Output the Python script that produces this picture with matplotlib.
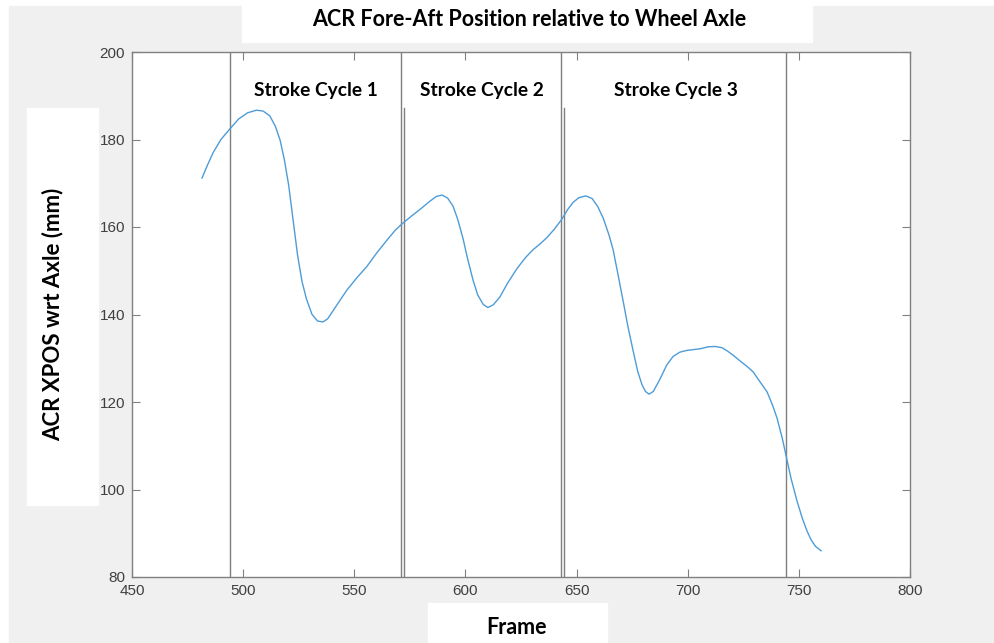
import matplotlib
matplotlib.use("Agg")
import matplotlib.pyplot as plt
from matplotlib.patches import Rectangle

# DATA
frames = [481.5, 484.0, 486.5, 490.0, 494.0, 498.0, 502.0, 506.0, 509.0, 512.0,
          514.5, 516.6, 518.5, 520.5, 522.5, 524.5, 526.5, 528.5, 531.0, 533.5,
          535.9, 538.0, 540.5, 543.5, 546.7, 551.0, 555.7, 560.0, 564.7, 568.5,
          571.9, 576.0, 580.0, 584.0, 587.0, 589.5, 592.0, 594.4, 596.5, 598.9,
          601.0, 603.4, 605.5, 608.0, 610.1, 612.5, 615.5, 619.0, 623.2, 627.0,
          630.4, 633.5, 636.7, 640.0, 643.4, 646.0, 648.4, 651.0, 654.2, 657.0,
          659.5, 662.0, 664.5, 666.4, 668.5, 670.9, 673.0, 675.4, 677.5, 679.4,
          681.0, 682.6, 684.5, 687.5, 690.5, 693.4, 696.5, 699.7, 703.0, 706.0,
          709.0, 712.3, 715.5, 718.0, 720.4, 724.0, 727.0, 729.4, 732.0, 735.7,
          738.0, 740.2, 742.5, 744.6, 746.5, 749.1, 751.5, 753.6, 755.5, 757.5,
          760.0]
acr_xpos = [171.2, 174.2, 177.0, 180.0, 182.4, 184.7, 186.1, 186.7, 186.5, 185.4,
            183.0, 179.9, 175.5, 169.5, 161.5, 153.5, 147.5, 143.5, 140.0, 138.5,
            138.3, 139.0, 140.9, 143.2, 145.6, 148.3, 151.0, 154.0, 157.0, 159.3,
            160.9, 162.6, 164.2, 165.9, 167.0, 167.3, 166.6, 164.8, 161.8, 157.4,
            152.7, 147.9, 144.5, 142.3, 141.6, 142.2, 144.0, 147.2, 150.5, 153.0,
            154.8, 156.1, 157.6, 159.5, 161.8, 164.0, 165.6, 166.7, 167.1, 166.5,
            164.7, 162.0, 158.3, 154.9, 149.5, 143.2, 137.5, 131.8, 127.0, 124.0,
            122.4, 121.8, 122.4, 125.2, 128.4, 130.4, 131.4, 131.8, 132.0, 132.2,
            132.6, 132.7, 132.4, 131.6, 130.7, 129.2, 128.0, 126.9, 125.0, 122.3,
            119.5, 116.3, 111.8, 106.9, 102.5, 97.5, 93.5, 90.6, 88.5, 87.0,
            86.0]

full_lines = [494.0, 570.9, 643.0, 744.2]   # full-height cycle markers
short_lines = [572.3, 644.5]                # second marker of each pair
cycle_labels = ["Stroke Cycle 1", "Stroke Cycle 2", "Stroke Cycle 3"]
cycle_label_x = [532.8, 607.4, 694.7]

W, H = 994, 643
fig = plt.figure(figsize=(W / 100, H / 100), dpi=100, facecolor="white")

# grey window background and white label boxes (pixel coords)
def px_rect(x0, y0, x1, y1, color):
    fig.patches.append(Rectangle((x0 / W, 1 - y1 / H), (x1 - x0) / W, (y1 - y0) / H,
                                 transform=fig.transFigure, color=color, zorder=-10))

px_rect(9, 6, W, H, "#f0f0f0")
px_rect(242, 0, 812, 42, "white")
px_rect(27, 108, 98, 505, "white")
px_rect(428, 603, 607, H, "white")

ax = fig.add_axes([132 / W, 1 - 577 / H, 778 / W, 525 / H])
ax.set_facecolor("white")

ax.plot(frames, acr_xpos, color="#4d9cd8", lw=1.0, zorder=3)
for x in full_lines:
    ax.axvline(x, color="#7f7f7f", lw=1.0, zorder=2)
for x in short_lines:
    ax.plot([x, x], [80, 187.3], color="#7f7f7f", lw=1.0, zorder=2)

for lab, x in zip(cycle_labels, cycle_label_x):
    ax.text(x, 191.3, lab, ha="center", va="center", fontsize=13.8,
            fontweight="bold", family="Lato", color="black", zorder=4)

ax.set_xlim(450, 800)
ax.set_ylim(80, 200)
ax.set_xticks(range(450, 801, 50))
ax.set_yticks(range(80, 201, 20))
ax.tick_params(direction="in", length=5.5, width=0.8, colors="#808080",
               labelcolor="#404040", labelsize=11, top=True, right=True, pad=5)
for lbl in ax.get_xticklabels() + ax.get_yticklabels():
    lbl.set_family("Liberation Sans")
for s in ax.spines.values():
    s.set_color("#808080")
    s.set_linewidth(1.0)

fig.text(529 / W, 1 - 20 / H, "ACR Fore-Aft Position relative to Wheel Axle",
         ha="center", va="center", fontsize=15.5, fontweight="bold", family="Lato")
fig.text(53 / W, 1 - 314 / H, "ACR XPOS wrt Axle (mm)", rotation=90,
         ha="center", va="center", fontsize=16, fontweight="bold", family="Lato")
fig.text(517 / W, 1 - 628 / H, "Frame", ha="center", va="center",
         fontsize=15.5, fontweight="bold", family="Lato")

fig.savefig("out.png", dpi=100, facecolor=fig.get_facecolor())
